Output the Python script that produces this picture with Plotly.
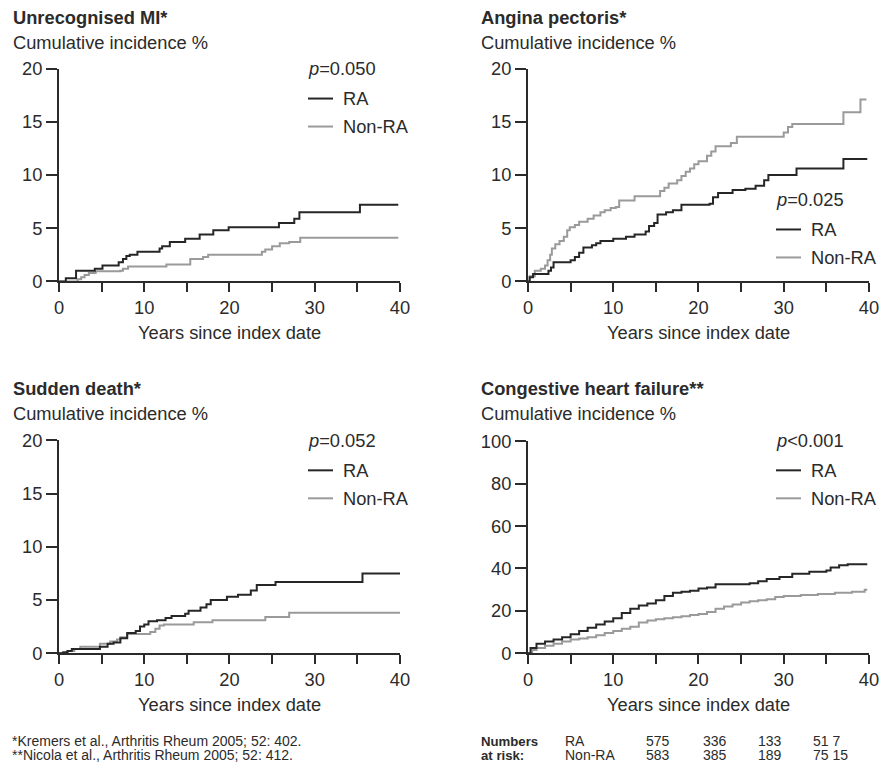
import plotly.graph_objects as go

# ---------------- data ----------------
panel_titles = ["Unrecognised MI*", "Angina pectoris*", "Sudden death*", "Congestive heart failure**"]
p_values = ["0.050", "0.025", "0.052", "<0.001"]
series_names = ["RA", "Non-RA"]

mi_ra_t = [0, 0.8, 2.0, 4.2, 5.1, 7.0, 7.5, 7.9, 8.3, 9.2, 11.8, 12.1, 13.0, 14.8, 16.5, 18.1, 19.9, 25.8, 27.6, 28.2, 35.3, 39.8]
mi_ra_y = [0, 0.3, 1.0, 1.2, 1.5, 1.8, 2.1, 2.4, 2.5, 2.8, 3.1, 3.3, 3.7, 4.0, 4.4, 4.8, 5.1, 5.5, 5.9, 6.5, 7.2, 7.2]
mi_non_t = [0, 2.2, 2.6, 3.0, 3.5, 4.3, 7.2, 7.5, 8.1, 12.6, 15.4, 16.9, 17.5, 23.8, 24.2, 25.0, 25.9, 27.0, 28.3, 39.8]
mi_non_y = [0, 0.2, 0.4, 0.6, 0.8, 0.95, 1.0, 1.2, 1.4, 1.6, 2.1, 2.3, 2.5, 2.8, 3.0, 3.3, 3.6, 3.7, 4.1, 4.1]

ap_ra_t = [0, 0.2, 0.6, 2.4, 2.7, 3.0, 5.0, 5.5, 6.0, 6.5, 7.5, 8.0, 8.5, 10.0, 11.5, 12.5, 13.8, 14.2, 14.8, 15.2, 16.2, 17.0, 18.0, 21.3, 21.7, 22.3, 24.0, 25.5, 26.7, 27.7, 28.2, 31.5, 37.0, 39.8]
ap_ra_y = [0, 0.4, 0.7, 1.0, 1.3, 1.8, 2.0, 2.3, 2.7, 3.2, 3.4, 3.6, 3.8, 4.0, 4.2, 4.4, 4.7, 5.2, 5.5, 6.3, 6.5, 6.7, 7.2, 7.3, 7.9, 8.3, 8.6, 8.7, 9.0, 9.5, 10.0, 10.6, 11.5, 11.5]
ap_non_t = [0, 0.2, 0.8, 1.5, 2.0, 2.3, 2.6, 2.8, 3.2, 3.7, 4.2, 4.6, 4.9, 5.5, 6.0, 7.0, 7.7, 8.5, 9.0, 9.7, 10.3, 10.7, 12.5, 15.5, 16.0, 16.5, 17.5, 18.0, 18.5, 19.0, 19.5, 20.0, 21.0, 21.5, 22.0, 23.8, 24.5, 30.0, 30.5, 31.0, 37.0, 39.0, 39.7]
ap_non_y = [0, 0.5, 1.0, 1.2, 1.5, 2.0, 2.5, 3.1, 3.5, 3.8, 4.2, 4.8, 5.1, 5.3, 5.6, 5.9, 6.2, 6.5, 6.7, 6.9, 7.0, 7.6, 8.0, 8.5, 8.8, 9.2, 9.5, 9.9, 10.3, 10.6, 11.0, 11.3, 11.8, 12.2, 12.7, 13.0, 13.6, 14.0, 14.5, 14.8, 15.9, 17.1, 17.1]

sd_ra_t = [0, 0.5, 1.0, 1.5, 4.8, 5.7, 6.4, 7.2, 8.0, 9.0, 9.5, 10.0, 10.5, 11.5, 12.5, 13.2, 14.8, 15.2, 16.6, 17.3, 17.8, 19.7, 21.0, 22.5, 23.2, 25.4, 35.6, 40.0]
sd_ra_y = [0, 0.1, 0.2, 0.4, 0.6, 0.9, 1.0, 1.4, 1.9, 2.1, 2.5, 2.7, 3.0, 3.1, 3.3, 3.5, 3.7, 4.0, 4.3, 4.6, 5.0, 5.3, 5.5, 5.9, 6.4, 6.7, 7.5, 7.5]
sd_non_t = [0, 1.0, 1.8, 2.5, 4.8, 6.0, 6.8, 7.2, 8.0, 10.7, 11.3, 11.8, 12.3, 15.8, 18.0, 24.2, 27.0, 40.0]
sd_non_y = [0, 0.2, 0.4, 0.6, 0.9, 1.1, 1.3, 1.5, 1.8, 2.0, 2.3, 2.6, 2.7, 2.9, 3.1, 3.4, 3.8, 3.8]

chf_ra_t = [0, 0.3, 1, 2, 3, 4, 5, 6, 7, 8, 9, 10, 11, 12, 13, 14, 15, 16, 17, 18, 19, 20, 21, 22, 26, 27, 28, 29.5, 31, 33, 35, 35.5, 36.5, 37.5, 39.8]
chf_ra_y = [0, 2.5, 4.5, 5.5, 6.5, 7.5, 9, 10.5, 12, 13.5, 15, 16.5, 19, 21, 22.5, 23.5, 25, 27, 28.5, 29, 29.5, 30.5, 31, 32.5, 33, 34, 35, 36, 37.5, 38.5, 39, 40.5, 41.5, 42, 42]
chf_non_t = [0, 0.5, 1, 2, 3, 4, 5, 6, 7, 8, 9, 10, 11, 12, 13, 14, 15, 16, 17, 18, 19, 20, 21, 22, 23, 24, 25, 26, 27, 28, 29, 30, 32, 34, 36, 38, 39.5, 39.8]
chf_non_y = [0, 1.5, 2.5, 3.5, 4.5, 5.5, 6.5, 7, 7.5, 8.5, 9.5, 10.5, 11.5, 12.5, 14.5, 15.5, 16, 16.5, 17, 17.5, 18, 18.5, 19.5, 21, 22, 23, 24, 24.5, 25, 25.5, 26.5, 27, 27.5, 28, 28.5, 29, 30, 30]

y_max = [20, 20, 20, 100]
y_dtick = [5, 5, 5, 20]

risk_ra = ["575", "336", "133", "51 7"]
risk_non = ["583", "385", "189", "75 15"]

footnotes = ["*Kremers et al., Arthritis Rheum 2005; 52: 402.",
             "**Nicola et al., Arthritis Rheum 2005; 52: 412."]

# ---------------- figure ----------------
W, H = 881, 762
# layout is specified in target-picture pixels; the capture shows the page
# slightly scaled and offset, so map picture pixels back to figure pixels
SX, SY, OX, OY = 0.983, 0.973, 5.0, 10.4
FONT = "Liberation Sans, Arial, Helvetica, sans-serif"
TXT = "#2b2b2b"
RA_COL = "#262626"
NON_COL = "#9a9a9a"
BIG = 18.3
SMALL = 14.0
SMALL_BOLD = 13.2


def px(x):
    return ((x - OX) / SX) / W


def py(y):
    return 1 - ((y - OY) / SY) / H


boxes = [(59, 400, 68, 281), (528, 869, 68, 281), (59, 400, 440, 653), (528, 869, 441, 653)]

curves = [
    (mi_ra_t, mi_ra_y, mi_non_t, mi_non_y),
    (ap_ra_t, ap_ra_y, ap_non_t, ap_non_y),
    (sd_ra_t, sd_ra_y, sd_non_t, sd_non_y),
    (chf_ra_t, chf_ra_y, chf_non_t, chf_non_y),
]

fig = go.Figure()
layout = dict(
    width=W, height=H, autosize=False, margin=dict(l=0, r=0, t=0, b=0, pad=0),
    paper_bgcolor="white", plot_bgcolor="white",
    showlegend=False, font=dict(family=FONT, size=BIG, color=TXT),
)
annotations = []
shapes = []

leg_pos = [(307, 68), (775, 199), (307, 440), (775, 440)]
title_pos = [(12, 17, 42), (480, 17, 42), (12, 388, 413), (480, 388, 413)]


def note(text, x, y, size, anchor="left"):
    annotations.append(dict(text=text, x=px(x), y=py(y), xref="paper", yref="paper",
                            xanchor=anchor, yanchor="middle", showarrow=False,
                            borderpad=0, font=dict(size=size, color=TXT)))


for i in range(4):
    k = "" if i == 0 else str(i + 1)
    l, r, t, b = boxes[i]
    ra_t, ra_y, non_t, non_y = curves[i]
    fig.add_trace(go.Scatter(x=non_t, y=non_y, mode="lines", line=dict(color=NON_COL, width=2, shape="hv"),
                             xaxis="x" + k, yaxis="y" + k, name=series_names[1]))
    fig.add_trace(go.Scatter(x=ra_t, y=ra_y, mode="lines", line=dict(color=RA_COL, width=2, shape="hv"),
                             xaxis="x" + k, yaxis="y" + k, name=series_names[0]))
    layout["xaxis" + k] = dict(
        domain=[px(l), min(px(r), 0.998)], anchor="y" + k, range=[0, 40], dtick=10, tick0=0,
        showgrid=False, zeroline=False, showline=True, linecolor=TXT, linewidth=2,
        ticks="outside", ticklen=9, tickwidth=2, tickcolor=TXT,
        minor=dict(dtick=5, ticks="outside", ticklen=9, tickwidth=2, tickcolor=TXT, showgrid=False),
        tickfont=dict(size=BIG, color=TXT), fixedrange=True,
    )
    layout["yaxis" + k] = dict(
        domain=[py(b), py(t)], anchor="x" + k, range=[0, y_max[i]], dtick=y_dtick[i], tick0=0,
        showgrid=False, zeroline=False, showline=True, linecolor=TXT, linewidth=2,
        ticks="outside", ticklen=11, tickwidth=2, tickcolor=TXT,
        tickfont=dict(size=BIG, color=TXT), fixedrange=True,
    )
    tx, ty1, ty2 = title_pos[i]
    note("<b>" + panel_titles[i] + "</b>", tx, ty1, BIG)
    note("Cumulative incidence %", tx, ty2, BIG)
    note("Years since index date", (l + r) / 2, b + 51, BIG, anchor="center")
    lx, ly = leg_pos[i]
    pv = p_values[i]
    ptxt = "<i>p</i>" + (pv.replace("<", "&lt;") if pv.startswith("<") else "=" + pv)
    note(ptxt, lx, ly, BIG)
    for j, (nm, col) in enumerate([(series_names[0], RA_COL), (series_names[1], NON_COL)]):
        yy = ly + 30 + 28 * j
        shapes.append(dict(type="line", xref="paper", yref="paper", x0=px(lx + 1), x1=px(lx + 26),
                           y0=py(yy), y1=py(yy), line=dict(color=col, width=2)))
        note(nm, lx + 35, yy, BIG)

for j, fn in enumerate(footnotes):
    note(fn, 11, 741 + 14 * j, SMALL)

row_y = [741, 755]
note("<b>Numbers</b>", 480, row_y[0], SMALL_BOLD)
note("<b>at risk:</b>", 480, row_y[1], SMALL_BOLD)
note(series_names[0], 564, row_y[0], SMALL)
note(series_names[1], 564, row_y[1], SMALL)
col_x = [645, 702, 757, 812]
for j in range(4):
    note(risk_ra[j], col_x[j], row_y[0], SMALL)
    note(risk_non[j], col_x[j], row_y[1], SMALL)

layout["annotations"] = annotations
layout["shapes"] = shapes
fig.update_layout(**layout)
fig.write_html(
    "out.html",
    config={"displayModeBar": False},
    post_script="document.body.style.margin='0';document.body.style.padding='0';"
                "document.body.style.overflow='hidden';document.documentElement.style.overflow='hidden';",
)
